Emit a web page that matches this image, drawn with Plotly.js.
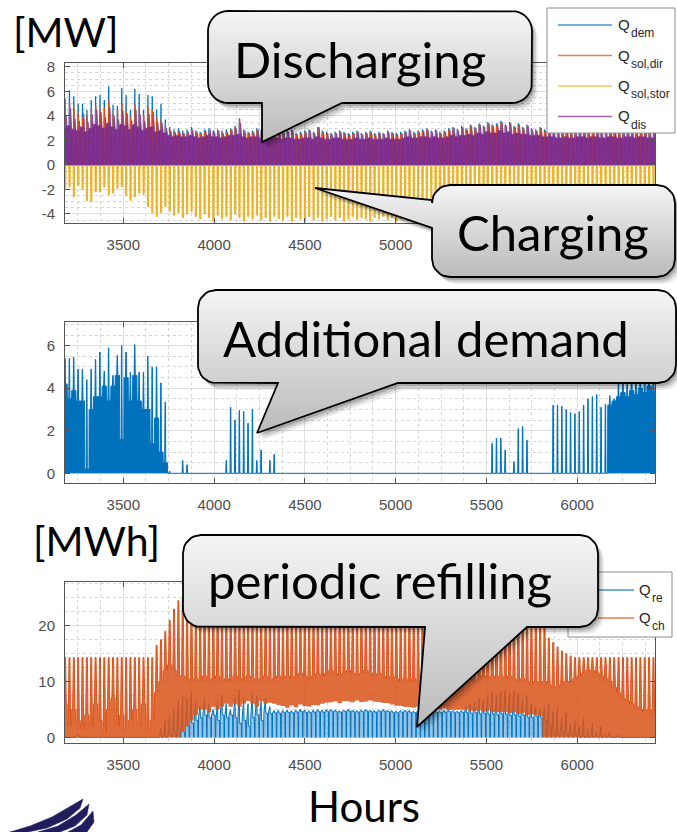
<!DOCTYPE html>
<html><head><meta charset="utf-8">
<script src="https://cdn.plot.ly/plotly-3.0.1.min.js"></script>
<style>html,body{margin:0;padding:0;background:#fff;overflow:hidden}#chart{width:677px;height:832px}</style>
</head><body><div id="chart"></div>
<script>
// ---------------- DATA (daily values; day d starts at hour DAY0 + 24*d) ----------------
const DAY0 = 3168;
const xTickVals = [3500, 4000, 4500, 5000, 5500, 6000];
const xTickTextTop = ['3500', '4000', '4500', '5000', '', ''];   // 5500 / 6000 are hidden under the "Charging" callout
const yTicksTop = [-4, -2, 0, 2, 4, 6, 8];
const yTicksMid = [0, 2, 4, 6];
const yTicksBot = [0, 10, 20];
const legendTop = ['dem', 'sol,dir', 'sol,stor', 'dis'];
const legendBot = ['re', 'ch'];

// Top panel [MW]
const qDemPeak = [5.4,6.1,5.6,5.0,5.0,4.5,5.3,5.6,5.7,5.3, 6.4,4.9,4.8,6.3,5.7,4.5,6.2,5.8,4.5,5.7,
 5.6,4.5,5.0,3.7,3.1,2.9,3.0,2.8,2.9,3.1, 2.8,2.7,2.9,3.0,2.8,2.9,2.8,2.9,3.0,3.2,
 3.8,2.9,2.7,2.8,3.0,2.9,2.8,2.7,2.9,2.8, 2.7,2.8,2.9,2.6,2.7,2.8,2.9,2.7,3.1,2.8,
 2.7,2.6,2.7,2.8,2.7,2.6,2.7,2.8,2.6,2.7, 2.8,2.6,2.7,2.6,2.8,2.7,2.6,2.7,2.8,2.9,
 2.7,2.8,2.9,3.0,2.8,2.9,2.7,2.8,3.0,3.1, 2.9,3.2,3.0,3.3,3.1,3.4,3.2,3.5,3.3,3.4,
 3.6,3.3,3.5,3.2,3.4,3.1,3.3,3.0,2.9,3.1, 2.9,2.8,2.9,2.8,2.7,2.9,2.8,2.7,2.8,2.9,
 2.7,2.8,2.9,2.8,2.7,2.8,2.9,2.8,2.7,2.9, 2.8,2.7,2.8,2.9,2.8,2.7];
const qSolDirPeak = [4.3,5.0,4.6,4.2,3.8,4.0,4.5,4.8,4.4,4.6, 5.2,4.1,4.4,5.0,4.3,3.9,4.9,4.6,4.0,4.7,
 4.5,3.8,3.6,3.2,2.8,2.6,2.7,2.5,2.6,2.8, 2.6,2.5,2.7,2.6,2.5,2.7,2.6,2.6,2.8,3.0,
 3.7,2.6,2.5,2.6,2.8,2.6,2.5,2.4,2.6,2.5, 2.5,2.6,2.7,2.4,2.5,2.6,2.7,2.5,2.9,2.6,
 2.5,2.4,2.5,2.6,2.5,2.4,2.5,2.6,2.4,2.5, 2.6,2.4,2.5,2.4,2.6,2.5,2.4,2.5,2.6,2.7,
 2.5,2.6,2.7,2.8,2.6,2.7,2.5,2.6,2.8,2.9, 2.7,3.0,2.8,3.1,2.9,3.2,3.0,3.3,3.1,3.2,
 3.4,3.1,3.3,3.0,3.2,2.9,3.1,2.8,2.7,2.9, 2.7,2.6,2.7,2.6,2.5,2.7,2.6,2.5,2.6,2.7,
 2.5,2.6,2.7,2.6,2.5,2.6,2.7,2.6,2.5,2.7, 2.6,2.5,2.6,2.7,2.6,2.5];
const qSolStorMin = [-1.9,-1.8,-2.6,-1.7,-2.0,-2.9,-3.0,-2.2,-2.2,-1.8, -2.4,-2.3,-1.9,-1.8,-2.5,-2.9,-2.6,-2.3,-2.4,-3.4,
 -3.9,-4.2,-3.9,-3.4,-3.8,-4.1,-3.9,-4.3,-4.0,-3.8, -4.2,-4.4,-4.0,-4.3,-4.6,-4.1,-4.4,-4.2,-4.5,-4.0,
 -4.3,-4.6,-4.2,-4.4,-4.1,-4.5,-4.3,-4.6,-4.2,-4.4, -4.5,-4.2,-4.6,-4.3,-4.4,-4.7,-4.2,-4.5,-4.3,-4.6,
 -4.4,-4.2,-4.5,-4.3,-4.6,-4.4,-4.2,-4.5,-4.3,-4.4, -4.6,-4.3,-4.4,-4.2,-4.5,-4.3,-4.6,-4.4,-4.2,-4.5,
 -4.3,-4.4,-4.6,-4.2,-4.4,-4.3,-4.5,-4.2,-4.4,-4.3, -4.2,-4.4,-4.1,-4.3,-4.0,-4.2,-3.9,-4.1,-3.8,-4.0,
 -3.8,-3.9,-3.7,-3.9,-3.6,-3.8,-3.7,-3.9,-3.6,-3.8, -3.5,-3.7,-3.4,-3.6,-3.3,-3.5,-3.2,-3.4,-3.1,-3.3,
 -3.0,-3.2,-2.9,-3.1,-2.8,-3.0,-2.7,-2.9,-2.6,-2.8, -2.5,-2.7,-2.4,-2.6,-2.3,-2.5];
const qDisBase = [3.0,3.2,2.9,2.8,3.1,2.7,3.0,3.3,3.2,3.0, 3.4,3.1,2.9,3.3,3.2,2.9,3.3,3.1,2.8,3.0,
 3.1,2.7,2.8,2.6,2.4,2.3,2.4,2.3,2.3,2.4, 2.3,2.2,2.3,2.4,2.3,2.3,2.2,2.3,2.4,2.4,
 2.5,2.3,2.2,2.3,2.3,2.2,2.2,2.1,2.2,2.2, 2.1,2.2,2.2,2.1,2.1,2.2,2.2,2.1,2.3,2.2,
 2.1,2.1,2.2,2.2,2.1,2.1,2.1,2.2,2.1,2.1, 2.2,2.1,2.1,2.1,2.2,2.1,2.1,2.1,2.2,2.3,
 2.2,2.2,2.3,2.3,2.2,2.3,2.2,2.2,2.3,2.4, 2.3,2.4,2.4,2.5,2.4,2.6,2.5,2.7,2.6,2.6,
 2.8,2.6,2.7,2.5,2.6,2.5,2.5,2.4,2.4,2.4, 2.3,2.3,2.3,2.2,2.2,2.3,2.2,2.2,2.3,2.3,
 2.2,2.3,2.3,2.2,2.2,2.3,2.3,2.2,2.2,2.3, 2.3,2.2,2.3,2.3,2.2,2.2];
const qDisPeak = [4.0,4.6,3.8,3.6,4.2,3.5,4.1,4.5,4.3,3.9, 4.7,4.0,3.7,4.4,4.2,3.6,4.5,4.1,3.6,4.2,
 4.3,3.5,3.4,3.0,2.8,2.7,2.8,2.6,2.7,2.9, 2.7,2.6,2.8,2.9,2.7,2.8,2.6,2.7,2.9,3.0,
 3.4,2.8,2.6,2.7,2.9,2.7,2.6,2.5,2.7,2.6, 2.6,2.7,2.8,2.5,2.6,2.7,2.8,2.6,3.1,2.7,
 2.6,2.5,2.6,2.7,2.6,2.5,2.6,2.7,2.5,2.6, 2.7,2.5,2.6,2.5,2.7,2.6,2.5,2.6,2.7,2.8,
 2.6,2.7,2.8,2.9,2.7,2.8,2.6,2.7,2.9,3.0, 2.8,3.1,2.9,3.2,3.0,3.3,3.1,3.4,3.2,3.3,
 3.5,3.2,3.4,3.1,3.3,3.0,3.2,2.9,2.8,3.0, 2.8,2.7,2.8,2.7,2.6,2.8,2.7,2.6,2.7,2.8,
 2.6,2.7,2.8,2.7,2.6,2.7,2.8,2.7,2.6,2.8, 2.7,2.6,2.7,2.8,2.7,2.6];

// Middle panel: additional demand [MW]
const addPeak = [5.4,5.4,5.45,4.9,4.9,4.4,4.9,5.35,5.7,4.8, 5.9,4.6,5.55,6.0,5.7,4.75,6.05,4.75,4.75,5.5,
 5.0,5.0,4.25,3.35,0.1,0,0,0.6,0.4,0, 0,0,0,0,0,0,0,0.6,3.1,2.5,
 2.95,2.9,2.35,3.0,0.6,1.1,0,0.6,0.9,0, 0,0,0,0,0,0,0,0,0,0,
 0,0,0,0,0,0,0,0,0,0, 0,0,0,0,0,0,0,0,0,0,
 0,0,0,0,0,0,0,0,0,0, 0,0,0,0,0,0,0,0,1.4,1.65,
 1.65,1.1,0,0.55,2.1,2.2,1.55,0,0,0, 0,0,3.2,3.2,3.15,3.0,2.85,2.8,2.9,3.2,
 3.5,3.6,3.7,3.1,3.25,3.65,3.5,4.2,4.6,4.4, 4.8,4.5,5.0,4.7,5.2,4.9];
const addBase = [4.2,3.5,3.9,3.4,3.4,0.2,3.0,3.6,3.6,4.1, 3.4,4.1,4.6,1.6,4.5,3.4,4.6,3.4,3.0,3.0,
 1.4,2.6,1.0,0.5,0,0,0,0,0,0, 0,0,0,0,0,0,0,0,0,0,
 0,0,0,0,0,0,0,0,0,0, 0,0,0,0,0,0,0,0,0,0,
 0,0,0,0,0,0,0,0,0,0, 0,0,0,0,0,0,0,0,0,0,
 0,0,0,0,0,0,0,0,0,0, 0,0,0,0,0,0,0,0,0,0,
 0,0,0,0,0,0,0,0,0,0, 0,0,0,0,0,0,0,0,0,0,
 0,0,0,0,0,3.2,3.4,3.6,3.8,3.6, 3.9,3.7,4.0,3.8,4.1,3.9];

// Bottom panel [MWh]
const reBase = [0,0,0,0,0,0,0,0,0,0, 0,0,0,0,0,0,0,0,0,0,
 0,0,0,0,0.5,1.0,1.5,1.0,2.0,2.5, 3.0,3.5,4.0,3.5,4.0,3.0,4.0,3.5,4.0,3.5,
 2.5,3.0,2.0,3.5,4.0,3.0,4.3,4.2,4.4,4.3, 4.4,4.5,4.4,4.5,4.6,4.5,4.4,4.5,4.6,4.5,
 4.6,4.7,4.6,4.5,4.6,4.7,4.6,4.5,4.6,4.7, 4.6,4.5,4.6,4.7,4.6,4.5,4.4,4.5,4.6,4.5,
 4.4,4.5,4.6,4.5,4.4,4.5,4.4,4.5,4.6,4.5, 4.4,4.5,4.4,4.3,4.4,4.2,4.3,4.1,4.2,4.0,
 4.2,4.1,3.9,4.0,3.8,4.0,3.6,3.5,3.8,3.6, 3.0,2.0,1.0,0.5,1.0,0.5,0.3,0.5,0,0,
 0,0,0,0,0,0,0,0,0,0, 0,0,0,0,0,0];
const rePeak = [0,0,0,0.5,0,0,0,0,0,0, 0,0,0,0,0,0,0,0,0,0,
 0,0,1.5,3.0,4.0,5.0,6.5,7.5,7.0,8.0, 6.5,5.5,7.0,6.0,5.0,6.5,7.5,6.0,5.0,7.0,
 8.5,7.0,6.0,8.0,7.5,6.5,7.0,5.5,4.8,4.9, 4.8,4.9,4.8,4.9,5.0,4.9,4.8,4.9,5.0,4.9,
 5.0,5.0,4.9,4.8,4.9,5.0,4.9,4.8,4.9,5.0, 4.9,4.8,4.9,5.0,4.9,4.8,4.7,4.8,4.9,4.8,
 4.7,4.8,4.9,4.8,4.7,4.8,4.7,4.8,4.9,4.8, 4.7,4.8,5.5,6.0,6.5,7.0,6.8,7.5,8.0,7.6,
 8.2,8.5,8.0,8.4,7.8,7.0,7.5,6.0,5.5,5.0, 5.5,6.0,4.5,5.5,3.5,4.5,2.5,3.0,2.0,3.5,
 1.5,2.5,1.0,2.0,0.5,1.0,0,0.5,0,0, 0,0,0,0,0,0];
const chLow = [0,0,0,0,0,0,0,0,0,0, 0,0,0,0,0,0,0,0,0,0,
 0,0,0,0,0,0,0,1.0,2.0,3.0, 4.0,5.0,5.0,4.5,5.5,5.0,5.5,6.0,5.5,6.0,
 5.5,6.0,6.5,6.0,5.5,6.5,6.0,6.2,6.0,5.8, 5.6,5.3,5.7,5.4,5.9,5.6,5.5,5.8,5.7,6.0,
 6.2,6.3,6.4,6.1,6.5,6.4,6.3,6.6,6.3,6.4, 6.6,6.4,6.3,6.2,6.1,5.9,5.7,5.6,5.5,5.4,
 5.3,5.5,5.2,5.1,5.3,5.1,5.0,5.2,4.9,5.0, 5.0,4.9,5.0,4.8,4.7,4.9,4.6,4.8,4.5,4.6,
 4.5,4.6,4.3,4.5,4.2,4.4,4.0,4.2,4.0,3.8, 0,0,0,0,0,0,0,0,0,0,
 0,0,0,0,0,0,0,0,0,0, 0,0,0,0,0,0];
const chSolid = [6.0,2.0,5.0,3.0,1.5,4.0,2.0,6.0,3.0,1.0, 5.0,7.0,2.0,4.0,1.5,3.0,5.0,2.0,6.0,1.0,
 3.0,8.0,10.0,12.0,13.0,12.0,11.0,11.0,10.5,10.0, 10.5,10.0,11.0,10.0,10.5,11.0,10.0,10.5,10.0,11.0,
 10.5,10.0,11.0,10.5,10.0,10.5,11.0,10.0,10.5,11.0, 10.5,11.0,10.5,11.0,11.5,11.0,10.5,11.0,11.5,11.0,
 11.5,12.0,11.5,11.0,11.5,12.0,11.5,11.0,11.5,12.0, 11.5,11.0,11.5,11.0,10.5,11.0,10.5,10.0,10.5,10.0,
 10.5,10.0,10.5,10.0,9.5,10.0,10.5,10.0,9.5,10.0, 10.0,9.5,10.0,10.5,10.0,10.5,11.0,10.5,11.0,10.5,
 11.0,10.5,11.0,10.5,10.0,10.5,10.0,9.5,10.0,9.5, 10.0,9.5,9.0,9.0,9.5,10.0,10.0,10.5,11.0,11.5,
 12.0,12.0,11.5,11.0,10.5,10.0,9.0,8.0,7.0,6.5, 6.0,5.5,5.0,4.5,5.0,4.0];
const chPeak = [14.3,14.3,14.3,14.3,14.3,14.3,14.3,14.3,14.3,14.3, 14.3,14.3,14.3,14.3,14.3,14.3,14.3,14.3,14.3,14.3,
 14.3,16.5,17.5,19.0,21.0,23.0,24.5,25.0,24.0,23.5, 23.0,22.5,23.0,22.0,22.5,23.0,22.0,21.5,22.5,23.0,
 22.0,21.5,22.0,22.5,23.0,22.0,22.5,23.0,22.0,22.5, 22.0,22.5,23.0,22.0,22.5,23.0,22.5,22.0,22.5,23.0,
 22.5,22.0,22.5,23.0,22.5,22.0,22.5,23.0,22.5,22.0, 22.5,23.0,22.5,22.0,22.5,23.0,22.5,22.0,22.5,23.0,
 22.5,22.0,22.5,23.0,22.5,22.0,22.5,23.0,22.5,22.0, 22.5,23.0,22.5,22.0,22.5,23.0,22.5,22.0,22.5,23.0,
 22.5,22.0,22.5,23.0,22.5,22.0,22.5,21.0,21.5,22.0, 20.5,17.8,17.0,16.2,15.5,15.0,14.6,14.3,14.3,14.3,
 14.3,14.3,14.3,14.3,14.3,14.3,14.3,14.3,14.3,14.3, 14.3,14.3,14.3,14.3,14.3,14.3];

// ---------------- helpers ----------------
const W = 677, H = 832;
const px = v => v / W, py = v => 1 - v / H;
const C = {blue:'#0072BD', orange:'#D95319', yellow:'#EDB120', purple:'#7E2F8E'};

function daily(pattern) {
  const n = qDemPeak.length, x = [], y = [];
  for (let d = 0; d < n; d++) {
    const t0 = DAY0 + 24 * d;
    for (const [h, v] of pattern) { x.push(t0 + h); y.push(Array.isArray(v) ? v[d] : v); }
  }
  return {x, y};
}
function line(pat, ax, extra) {
  const s = daily(pat);
  return Object.assign({type:'scatter', mode:'lines', x:s.x, y:s.y, xaxis:'x'+ax, yaxis:'y'+ax, hoverinfo:'skip', showlegend:false}, extra);
}

const traces = [];
// top panel
traces.push(line([[9,0],[10.5,qDemPeak],[11.5,qDemPeak],[13,0]], '', {line:{color:C.blue,width:1.3}}));
traces.push(line([[10,0],[12,qSolDirPeak],[13,qSolDirPeak],[15,0]], '', {line:{color:C.orange,width:1.3}}));
traces.push(line([[8,0],[9,qSolStorMin],[15,qSolStorMin],[16,0]], '', {line:{color:C.yellow,width:1}, fill:'tozeroy', fillcolor:C.yellow}));
traces.push(line([[0,qDisBase],[10,qDisBase],[11,0],[13,0],[14,qDisBase],[17,qDisBase],[18,qDisPeak],[19,qDisBase],[23,qDisBase]], '',
  {line:{color:C.purple,width:0.6}, fill:'tozeroy', fillcolor:C.purple}));
// middle panel
traces.push(line([[0,addBase],[8,addBase],[10,addPeak],[12,addPeak],[14,addBase],[23,addBase]], '2',
  {line:{color:C.blue,width:1}, fill:'tozeroy', fillcolor:C.blue}));
// bottom panel
traces.push(line([[1,0],[2,reBase],[11,rePeak],[13,reBase],[22,reBase],[23,0]], '3',
  {line:{color:C.blue,width:1}, fill:'tozeroy', fillcolor:'rgba(60,150,215,0.55)'}));
traces.push(line([[0,chLow],[23,chLow]], '3', {line:{color:'rgba(0,0,0,0)',width:0}}));
traces.push(line([[0,chSolid],[5,chSolid],[9,chPeak],[14,chPeak],[18,chSolid],[23,chSolid]], '3',
  {line:{color:C.orange,width:1}, fill:'tonexty', fillcolor:'rgba(217,83,25,0.85)'}));

// ---------------- overlay (legends, callouts, logo) in page-pixel coordinates ----------------
function poly(pts, extra) {
  return Object.assign({type:'scatter', mode:'lines', x:pts.map(p=>p[0]), y:pts.map(p=>p[1]), xaxis:'x4', yaxis:'y4', hoverinfo:'skip', showlegend:false}, extra);
}
function rect(x0,y0,x1,y1){ return [[x0,y0],[x1,y0],[x1,y1],[x0,y1],[x0,y0]]; }
function bubble(x0,y0,x1,y1,r,edge,tail){
  const P=[], seg=8;
  const arc=(cx,cy,a0,a1)=>{for(let i=0;i<=seg;i++){const a=a0+(a1-a0)*i/seg;P.push([cx+r*Math.cos(a),cy+r*Math.sin(a)]);}};
  arc(x0+r,y0+r,Math.PI,1.5*Math.PI);
  arc(x1-r,y0+r,1.5*Math.PI,2*Math.PI);
  arc(x1-r,y1-r,0,0.5*Math.PI);
  if(edge==='bottom') tail.forEach(p=>P.push(p));
  arc(x0+r,y1-r,0.5*Math.PI,Math.PI);
  if(edge==='left') tail.forEach(p=>P.push(p));
  P.push(P[0]);
  return P;
}
// legend boxes
traces.push(poly(rect(547,8,675,133), {fill:'toself', fillcolor:'#fff', line:{color:'#8c8c8c',width:1}}));
const legTopY = [25, 55.5, 86, 116.5];
const legTopC = [C.blue, C.orange, C.yellow, C.purple];
legTopY.forEach((y,i)=>traces.push(poly([[558,y],[612,y]], {line:{color:legTopC[i],width:1.6}, opacity:0.75})));
traces.push(poly(rect(568,572,672,637), {fill:'toself', fillcolor:'#fff', line:{color:'#8c8c8c',width:1}}));
const legBotY = [590, 618];
const legBotC = [C.blue, C.orange];
legBotY.forEach((y,i)=>traces.push(poly([[598,y],[634,y]], {line:{color:legBotC[i],width:1.6}, opacity:0.75})));

const bubbles = [
  bubble(208,11,532,103,20,'bottom',[[342,103],[262,142],[262,103]]),
  bubble(432,185,675,277,18,'left',[[432,228],[315,188],[432,200]]),
  bubble(198,290,676,383,18,'bottom',[[398,383],[257,433],[278,383]]),
  bubble(183,535,598,627,18,'bottom',[[527,627],[417,727],[425,627]])
];
bubbles.forEach(b=>{
  [[6,7,0.08],[4,5,0.13],[2,3,0.18]].forEach(([dx,dy,a])=>{
    traces.push(poly(b.map(p=>[p[0]+dx,p[1]+dy]), {fill:'toself', fillcolor:'rgba(0,0,0,'+a+')', line:{width:0,color:'rgba(0,0,0,0)'}}));
  });
});
bubbles.forEach(b=>{
  const ys=b.map(p=>p[1]);
  traces.push(poly(b, {fill:'toself', fillcolor:'#d6d6d6',
    fillgradient:{type:'vertical', start:Math.min(...ys), stop:Math.max(...ys), colorscale:[[0,'#f5f5f5'],[1,'#bababa']]},
    line:{color:'#000',width:1.8}}));
});
// logo swoosh
const navy = '#1f1d5c';
[[[10,832],[30,826],[52,817],[70,807],[83,799],[80,808],[67,819],[47,828],[28,832]],
 [[38,832],[58,826],[76,815],[89,804],[87,815],[75,826],[60,832]],
 [[68,832],[81,825],[93,811],[94,822],[87,832]]].forEach(p=>traces.push(poly(p.concat([p[0]]), {fill:'toself', fillcolor:navy, line:{color:navy,width:0.5}})));

// ---------------- axes ----------------
const tickFont = {family:'Liberation Sans, Arial, sans-serif', size:15, color:'#4d4d4d'};
function baseAx(){ return {showline:true, linecolor:'#555', linewidth:1, mirror:'ticks', ticks:'inside', ticklen:5, tickcolor:'#555',
  zeroline:false, showgrid:true, gridcolor:'#dedede', gridwidth:1, tickfont:tickFont, fixedrange:true}; }
function xAx(anchor, labels){ return Object.assign(baseAx(), {anchor:anchor, domain:[65/W, 655/W], range:[3179,6428],
  tickmode:'array', tickvals:xTickVals, ticktext:labels, ticklabelstandoff:8,
  minor:{tickmode:'linear', tick0:0, dtick:125, showgrid:true, gridcolor:'#d6d6d6', griddash:'dot', gridwidth:1}}); }
function yAx(anchor, top, bot, range, ticks, mdt){ return Object.assign(baseAx(), {anchor:anchor, domain:[py(bot), py(top)], range:range,
  tickmode:'array', tickvals:ticks, ticktext:ticks.map(String), ticklabelstandoff:6,
  minor:{tickmode:'linear', tick0:0, dtick:mdt, showgrid:true, gridcolor:'#d6d6d6', griddash:'dot', gridwidth:1}}); }

// ---------------- annotations ----------------
const ann = [];
function txt(x, y, text, size, extra){ ann.push(Object.assign({xref:'paper', yref:'paper', x:px(x), y:py(y), xanchor:'left', yanchor:'middle',
  text:text, showarrow:false, borderpad:0, font:{family:'Lato, Carlito, sans-serif', size:size, color:'#000'}}, extra)); }
txt(12, 31, '[MW]', 41);
txt(32, 540, '[MWh]', 41);
txt(307, 832, 'Hours', 42, {yanchor:'bottom'});
txt(233, 58.5, 'Discharging', 49);
txt(456, 231.5, 'Charging', 49);
txt(222, 338, 'Additional demand', 49);
txt(207, 580, 'periodic refilling', 49);
const legFont = (s)=>({family:'Liberation Sans, Arial, sans-serif', size:s, color:'#262626'});
legendTop.forEach((s,i)=>{ txt(617, legTopY[i]-0.5, 'Q', 15, {font:legFont(15)}); txt(630, legTopY[i]+8, s, 12, {font:legFont(12)}); });
legendBot.forEach((s,i)=>{ txt(638, legBotY[i]-0.5, 'Q', 15, {font:legFont(15)}); txt(651, legBotY[i]+8, s, 12, {font:legFont(12)}); });

const layout = {
  width:W, height:H, margin:{l:0,r:0,t:0,b:0}, paper_bgcolor:'#fff', plot_bgcolor:'rgba(0,0,0,0)', showlegend:false,
  xaxis: xAx('y', xTickTextTop), yaxis: yAx('x', 62.8, 223.3, [-4.76, 8.33], yTicksTop, 0.5),
  xaxis2: xAx('y2', xTickVals.map(String)), yaxis2: yAx('x2', 322.3, 483.3, [-0.47, 7.1], yTicksMid, 0.5),
  xaxis3: xAx('y3', xTickVals.map(String)), yaxis3: yAx('x3', 582.3, 742.7, [-0.97, 27.8], yTicksBot, 2.5),
  xaxis4: {domain:[0,1], range:[0,W], anchor:'y4', visible:false, fixedrange:true},
  yaxis4: {domain:[0,1], range:[H,0], anchor:'x4', visible:false, fixedrange:true},
  annotations: ann
};
Plotly.newPlot('chart', traces, layout, {staticPlot:true, displayModeBar:false});
</script></body></html>
